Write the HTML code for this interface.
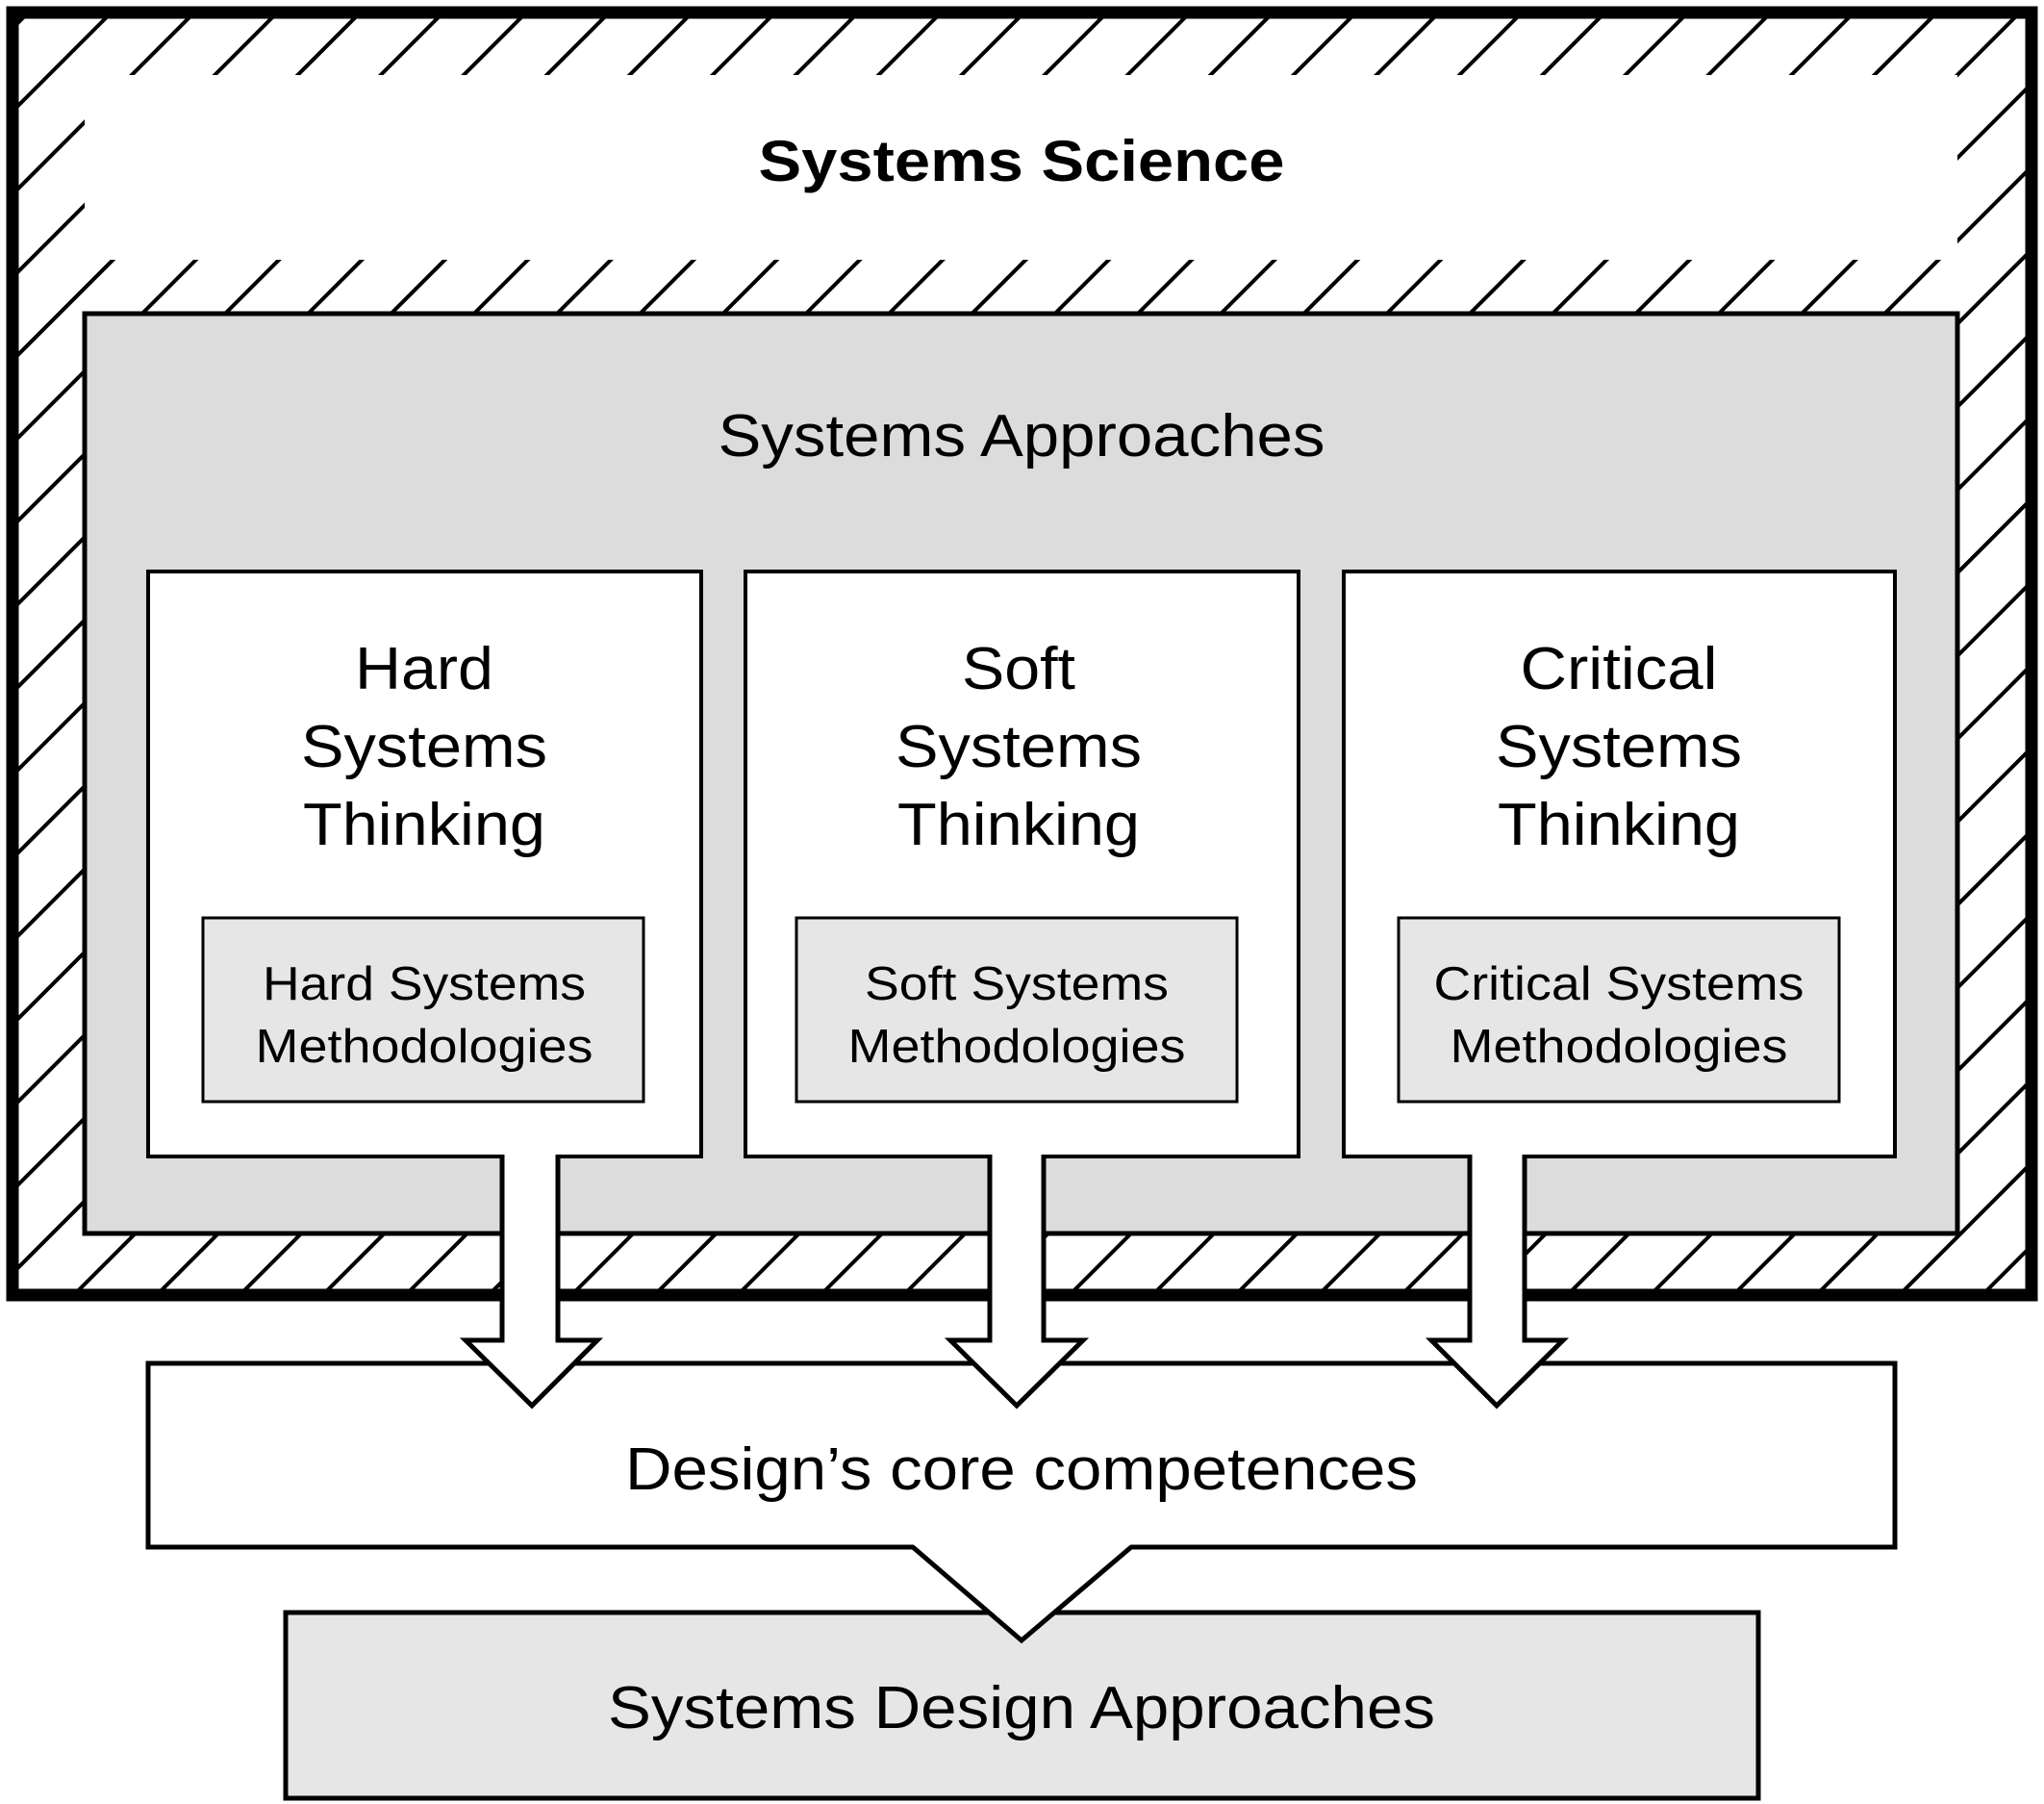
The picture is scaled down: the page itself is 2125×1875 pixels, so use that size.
<!DOCTYPE html>
<html><head><meta charset="utf-8"><style>
html,body{margin:0;padding:0;background:#fff;}
svg{display:block;}
text{font-family:"Liberation Sans",Arial,sans-serif;fill:#000;}
</style></head><body>
<svg width="2125" height="1875" viewBox="0 0 2125 1875" xmlns="http://www.w3.org/2000/svg">
<defs>
<pattern id="h" patternUnits="userSpaceOnUse" width="61" height="61" patternTransform="rotate(45)">
<line x1="0" y1="0" x2="0" y2="61" stroke="#000" stroke-width="4" transform="translate(30,0)"/>
</pattern>
</defs>
<rect x="0" y="0" width="2125" height="1875" fill="#fff"/>
<rect x="13" y="13" width="2099" height="1333" fill="url(#h)"/>
<rect x="13" y="13" width="2099" height="1333" fill="none" stroke="#000" stroke-width="13"/>
<rect x="88" y="78" width="1947" height="192" fill="#fff"/>
<text x="1062" y="188" font-size="60" font-weight="bold" text-anchor="middle" textLength="547" lengthAdjust="spacingAndGlyphs">Systems Science</text>
<rect x="88" y="326" width="1947" height="956" fill="#dcdcdc" stroke="#000" stroke-width="5"/>
<text x="1062" y="474" font-size="62" text-anchor="middle" textLength="631" lengthAdjust="spacingAndGlyphs">Systems Approaches</text>
<g stroke="#000" stroke-width="4">
<rect x="154" y="594" width="575" height="608" fill="#fff"/>
<rect x="775" y="594" width="575" height="608" fill="#fff"/>
<rect x="1397" y="594" width="573" height="608" fill="#fff"/>
<rect x="211" y="954" width="458" height="191" fill="#e6e6e6" stroke-width="3"/>
<rect x="828" y="954" width="458" height="191" fill="#e6e6e6" stroke-width="3"/>
<rect x="1454" y="954" width="458" height="191" fill="#e6e6e6" stroke-width="3"/>
</g>
<g font-size="62" text-anchor="middle" lengthAdjust="spacingAndGlyphs">
<text x="441" y="716" textLength="144" lengthAdjust="spacingAndGlyphs">Hard</text><text x="441" y="797" textLength="256" lengthAdjust="spacingAndGlyphs">Systems</text><text x="441" y="878" textLength="252" lengthAdjust="spacingAndGlyphs">Thinking</text>
<text x="1059" y="716" textLength="118" lengthAdjust="spacingAndGlyphs">Soft</text><text x="1059" y="797" textLength="256" lengthAdjust="spacingAndGlyphs">Systems</text><text x="1059" y="878" textLength="252" lengthAdjust="spacingAndGlyphs">Thinking</text>
<text x="1683" y="716" textLength="205" lengthAdjust="spacingAndGlyphs">Critical</text><text x="1683" y="797" textLength="256" lengthAdjust="spacingAndGlyphs">Systems</text><text x="1683" y="878" textLength="252" lengthAdjust="spacingAndGlyphs">Thinking</text>
</g>
<g font-size="49" text-anchor="middle">
<text x="441" y="1039" textLength="336" lengthAdjust="spacingAndGlyphs">Hard Systems</text><text x="441" y="1104" textLength="351" lengthAdjust="spacingAndGlyphs">Methodologies</text>
<text x="1057" y="1039" textLength="316" lengthAdjust="spacingAndGlyphs">Soft Systems</text><text x="1057" y="1104" textLength="351" lengthAdjust="spacingAndGlyphs">Methodologies</text>
<text x="1683" y="1039" textLength="385" lengthAdjust="spacingAndGlyphs">Critical Systems</text><text x="1683" y="1104" textLength="351" lengthAdjust="spacingAndGlyphs">Methodologies</text>
</g>
<rect x="297" y="1676" width="1531" height="193" fill="#e6e6e6" stroke="#000" stroke-width="5"/>
<rect x="154" y="1417" width="1816" height="191" fill="#fff" stroke="#000" stroke-width="5"/>
<polygon points="949,1605 1062,1702 1176,1605" fill="#fff"/>
<polyline points="949,1608 1062,1705 1176,1608" fill="none" stroke="#000" stroke-width="5"/>
<text x="1062" y="1548" font-size="62" text-anchor="middle" textLength="824" lengthAdjust="spacingAndGlyphs">Design’s core competences</text>
<text x="1062" y="1796" font-size="62" text-anchor="middle" textLength="860" lengthAdjust="spacingAndGlyphs">Systems Design Approaches</text>
<g fill="#fff" stroke="#000" stroke-width="5" stroke-linejoin="miter">
<path d="M522,1200 L522,1393 L484,1393 L553,1461 L621,1393 L580,1393 L580,1200"/>
<path d="M1029,1200 L1029,1393 L988,1393 L1057,1461 L1126,1393 L1085,1393 L1085,1200"/>
<path d="M1528,1200 L1528,1393 L1488,1393 L1556,1461 L1625,1393 L1585,1393 L1585,1200"/>
</g>
<g fill="#fff">
<rect x="525" y="1196" width="52" height="10"/>
<rect x="1032" y="1196" width="50" height="10"/>
<rect x="1531" y="1196" width="51" height="10"/>
</g>
</svg>
</body></html>
